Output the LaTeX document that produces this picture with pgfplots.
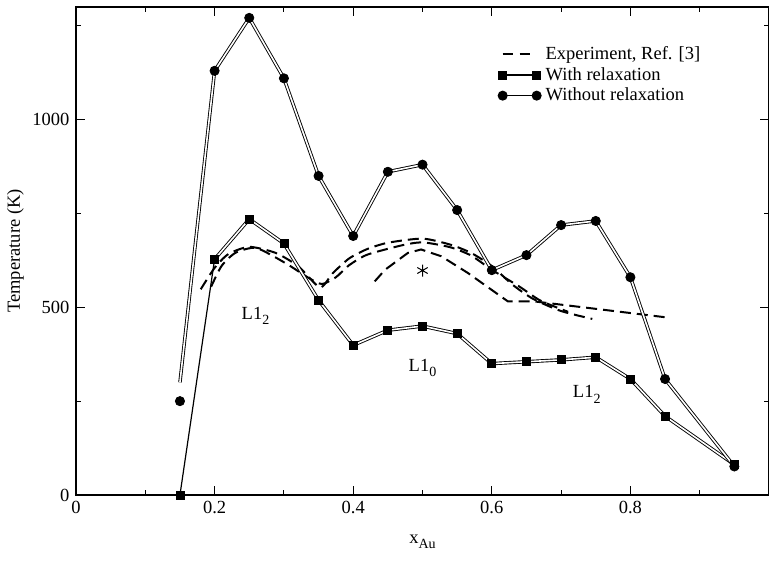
\documentclass[border=0pt]{standalone}
\usepackage{pgfplots}
\pgfplotsset{compat=1.18}
\usepackage{fontspec}
\setmainfont{Liberation Serif}
\begin{document}
\fontsize{9.25pt}{11pt}\selectfont
\begin{tikzpicture}
\begin{axis}[
  scale only axis, width=346.5pt, height=244pt,
  xmin=0, xmax=1, ymin=0, ymax=1300,
  xtick={0,0.2,0.4,0.6,0.8}, xticklabels={0,0.2,0.4,0.6,0.8},
  minor xtick={0.1,0.3,0.5,0.7,0.9},
  ytick={0,500,1000}, yticklabels={0,500,1000}, minor ytick={250,750,1250},
  tick align=inside, major tick length=4.5pt, minor tick length=2.5pt,
  every tick/.style={black, line width=0.5pt},
  axis line style={line width=0.8pt},
  /pgf/number format/assume math mode=true,
  /pgf/number format/1000 sep={},
  tick label style={font=\fontsize{9.25pt}{11pt}\selectfont},
  xlabel={x\raisebox{-0.6ex}{\fontsize{7pt}{8pt}\selectfont Au}},
  ylabel={Temperature (K)},
  xlabel style={yshift=-4pt},
  ylabel style={yshift=-2pt},
  legend style={at={(axis cs:0.605,1212)}, anchor=north west, draw=none, fill=none,
    font=\fontsize{9.25pt}{10pt}\selectfont, row sep=-1.5pt, inner sep=1pt},
  legend cell align=left,
]
% experiment dashed curves
\addplot[black, line width=1pt, dash pattern=on 5.5pt off 3pt, smooth, tension=0.4,
  legend image code/.code={\draw[black, line width=1pt, dash pattern=on 5pt off 3.5pt] (0pt,0pt) -- (17pt,0pt);}]
  coordinates {(0.18,548) (0.20,605) (0.22,642) (0.25,661) (0.288,645) (0.321,609) (0.352,553)
   (0.37,590) (0.394,630) (0.42,655) (0.45,672) (0.50,683) (0.54,667) (0.57,645) (0.60,610) (0.63,560)
   (0.66,522) (0.70,490) (0.745,469)};
\addlegendentry{Experiment, Ref. [3]}
\addplot[black, line width=1pt, dash pattern=on 5.5pt off 3pt, smooth, tension=0.4, forget plot]
  coordinates {(0.195,555) (0.21,610) (0.23,645) (0.26,658) (0.302,618) (0.336,578) (0.355,562)
   (0.375,580) (0.394,612) (0.42,640) (0.47,665) (0.50,673) (0.54,660) (0.57,638) (0.60,600) (0.64,555)
   (0.67,518) (0.71,488)};
\addplot[black, line width=1pt, dash pattern=on 5.5pt off 3pt, forget plot]
  coordinates {(0.431,569) (0.446,600) (0.479,645) (0.498,654) (0.527,636) (0.565,592) (0.623,516)
   (0.66,516) (0.857,472)};
\addplot[black, only marks, mark=asterisk, mark size=3pt, mark options={line width=0.5pt}, forget plot]
  coordinates {(0.5,598)};
% with relaxation
\addplot[black, line width=0.6pt, forget plot] coordinates {(0.15,0) (0.2,628)};
\addplot[black, line width=0.45pt, double=white, double distance=0.8pt, forget plot]
  coordinates {(0.2,628) (0.25,735) (0.3,670) (0.35,519) (0.4,399) (0.45,439) (0.5,450)
   (0.55,430) (0.6,350) (0.65,355) (0.7,360) (0.75,367) (0.8,309) (0.85,210) (0.95,81)};
\addplot[black, only marks, mark=square*, mark size=2pt,
  legend image code/.code={\draw[black, line width=0.6pt] (0pt,0pt) -- (17pt,0pt);
     \draw[black, fill=black] (-2pt,-2pt) rectangle (2pt,2pt);
     \draw[black, fill=black] (15pt,-2pt) rectangle (19pt,2pt);}]
  coordinates {(0.15,0) (0.2,628) (0.25,735) (0.3,670) (0.35,519) (0.4,399) (0.45,439) (0.5,450)
   (0.55,430) (0.6,350) (0.65,355) (0.7,360) (0.75,367) (0.8,309) (0.85,210) (0.95,81)};
\addlegendentry{With relaxation}
% without relaxation
\addplot[black, line width=0.45pt, double=white, double distance=0.8pt, forget plot]
  coordinates {(0.15,300) (0.2,1130) (0.25,1271) (0.3,1110) (0.35,850) (0.4,690) (0.45,861)
   (0.5,880) (0.55,759) (0.6,599) (0.65,639) (0.7,719) (0.75,730) (0.8,580) (0.85,309) (0.95,76)};
\addplot[black, only marks, mark=*, mark size=2.3pt,
  legend image code/.code={\draw[black, line width=0.6pt] (0pt,0pt) -- (17pt,0pt);
     \fill[black] (0pt,0pt) circle (2.3pt);
     \fill[black] (17pt,0pt) circle (2.3pt);}]
  coordinates {(0.15,250) (0.2,1130) (0.25,1271) (0.3,1110) (0.35,850) (0.4,690) (0.45,861)
   (0.5,880) (0.55,759) (0.6,599) (0.65,639) (0.7,719) (0.75,730) (0.8,580) (0.85,309) (0.95,76)};
\addlegendentry{Without relaxation}
% phase labels
\node at (axis cs:0.259,476) {L1\raisebox{-0.6ex}{\fontsize{7pt}{8pt}\selectfont 2}};
\node at (axis cs:0.50,338) {L1\raisebox{-0.6ex}{\fontsize{7pt}{8pt}\selectfont 0}};
\node at (axis cs:0.737,268) {L1\raisebox{-0.6ex}{\fontsize{7pt}{8pt}\selectfont 2}};
\end{axis}
\pgfresetboundingbox
\path ([xshift=-38pt,yshift=-37.75pt]current axis.south west) rectangle ([yshift=3.5pt]current axis.north east);
\end{tikzpicture}
\end{document}
